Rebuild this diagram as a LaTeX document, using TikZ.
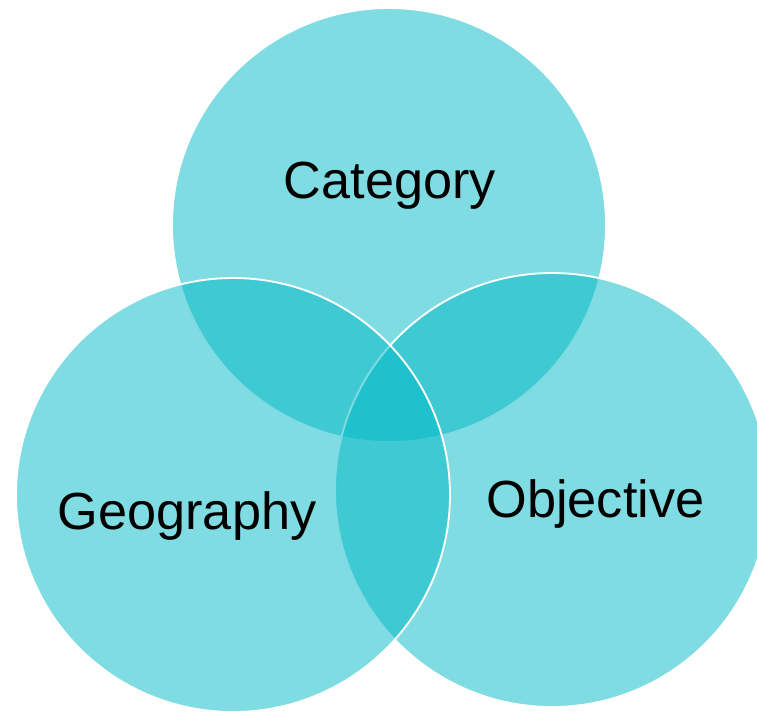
\documentclass[tikz,border=0pt]{standalone}
\usepackage{fontspec}
\setmainfont{Liberation Sans}
\usepackage{xcolor}
\usepackage{tikz}
\definecolor{venn}{rgb}{0,0.725,0.773}

\tikzset{
  ring/.style={circle, draw=white, line width=1.4pt, fill=venn, fill opacity=0.5, minimum size=325.5pt, inner sep=0pt},
  venntext/.style={anchor=base, inner sep=0.75pt, font=\fontsize{39.2}{47}\selectfont}
}

\begin{document}
\begin{tikzpicture}[x=0.75pt,y=0.75pt,yscale=-1,xscale=1]
%set diagram left start at 0, and has height of 715
\useasboundingbox (0,0) rectangle (757,715);
\clip (0,0) rectangle (757,715);

%Shape: Circle [Category]
\node[ring] (category) at (389,225) {};
%Shape: Circle [Objective]
\node[ring] (objective) at (552,490) {};
%Shape: Circle [Geography]
\node[ring] (geography) at (233,495) {};

% Text Node
\node[venntext] (categorytext) at (390,198) {Category};
% Text Node
\node[venntext] (objectivetext) at (595.5,517) {Objective};
% Text Node
\node[venntext] (geographytext) at (187,529) {Geography};
\end{tikzpicture}
\end{document}
